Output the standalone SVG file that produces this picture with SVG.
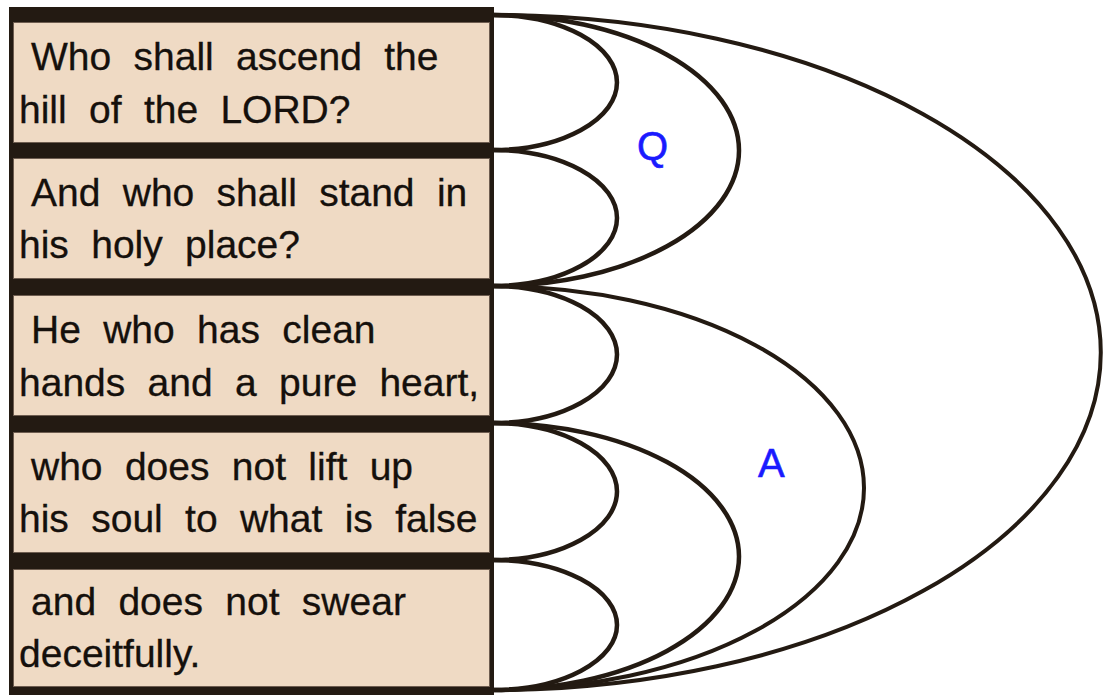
<svg xmlns="http://www.w3.org/2000/svg" width="1105" height="695" viewBox="0 0 1105 695">
  <style>
    .box { fill: #efdac4; stroke: #6e5d50; stroke-width: 1; }
    .txt { font-family: "Liberation Sans", Arial, sans-serif; font-size: 39px; fill: #15100c; word-spacing: 11.5px; stroke: #15100c; stroke-width: 0.3; }
    .lbl { font-family: "Liberation Sans", Arial, sans-serif; font-size: 40px; fill: #1a1aff; stroke: #1a1aff; stroke-width: 0.6; }
    .arc { fill: none; stroke: #231a12; stroke-width: 4.5; }
    .arc-o { fill: none; stroke: #231a12; stroke-width: 4; }
  </style>
  <rect width="1105" height="695" fill="#ffffff"/>
  <rect id="frame" x="9" y="7" width="485" height="688" fill="#231a12"/>

  <g id="node1">
    <rect class="box" x="13.5" y="22.5" width="476" height="120"/>
    <text class="txt" x="31" y="70">Who shall ascend the</text>
    <text class="txt" x="19" y="123">hill of the LORD?</text>
  </g>
  <g id="node2">
    <rect class="box" x="13.5" y="158.5" width="476" height="120"/>
    <text class="txt" x="31" y="206">And who shall stand in</text>
    <text class="txt" x="19" y="258">his holy place?</text>
  </g>
  <g id="node3">
    <rect class="box" x="13.5" y="295.5" width="476" height="120"/>
    <text class="txt" x="31" y="343">He who has clean</text>
    <text class="txt" x="19" y="396">hands and a pure heart,</text>
  </g>
  <g id="node4">
    <rect class="box" x="13.5" y="432.5" width="476" height="120"/>
    <text class="txt" x="31" y="480">who does not lift up</text>
    <text class="txt" x="19" y="532">his soul to what is false</text>
  </g>
  <g id="node5">
    <rect class="box" x="13.5" y="569.5" width="476" height="117"/>
    <text class="txt" x="31" y="615">and does not swear</text>
    <text class="txt" x="19" y="667">deceitfully.</text>
  </g>

  <g id="connectors">
    <path class="arc" d="M493,15 A124,67.5 0 0 1 493,150"/>
    <path class="arc" d="M493,150 A124,68 0 0 1 493,286"/>
    <path class="arc" d="M493,286 A124,68.5 0 0 1 493,423"/>
    <path class="arc" d="M493,423 A124,68.5 0 0 1 493,560"/>
    <path class="arc" d="M493,560 A124,65 0 0 1 493,690"/>
    <path class="arc" d="M493,15 A246,135.5 0 0 1 493,286"/>
    <path class="arc" d="M493,423 A246,133.5 0 0 1 493,690"/>
    <path class="arc-o" d="M493,286 A371,202 0 0 1 493,690"/>
    <path class="arc-o" d="M493,15 A608,337.5 0 0 1 493,690"/>
  </g>

  <g id="labels">
    <text class="lbl" x="637" y="160">Q</text>
    <text class="lbl" x="758" y="477">A</text>
  </g>
</svg>
